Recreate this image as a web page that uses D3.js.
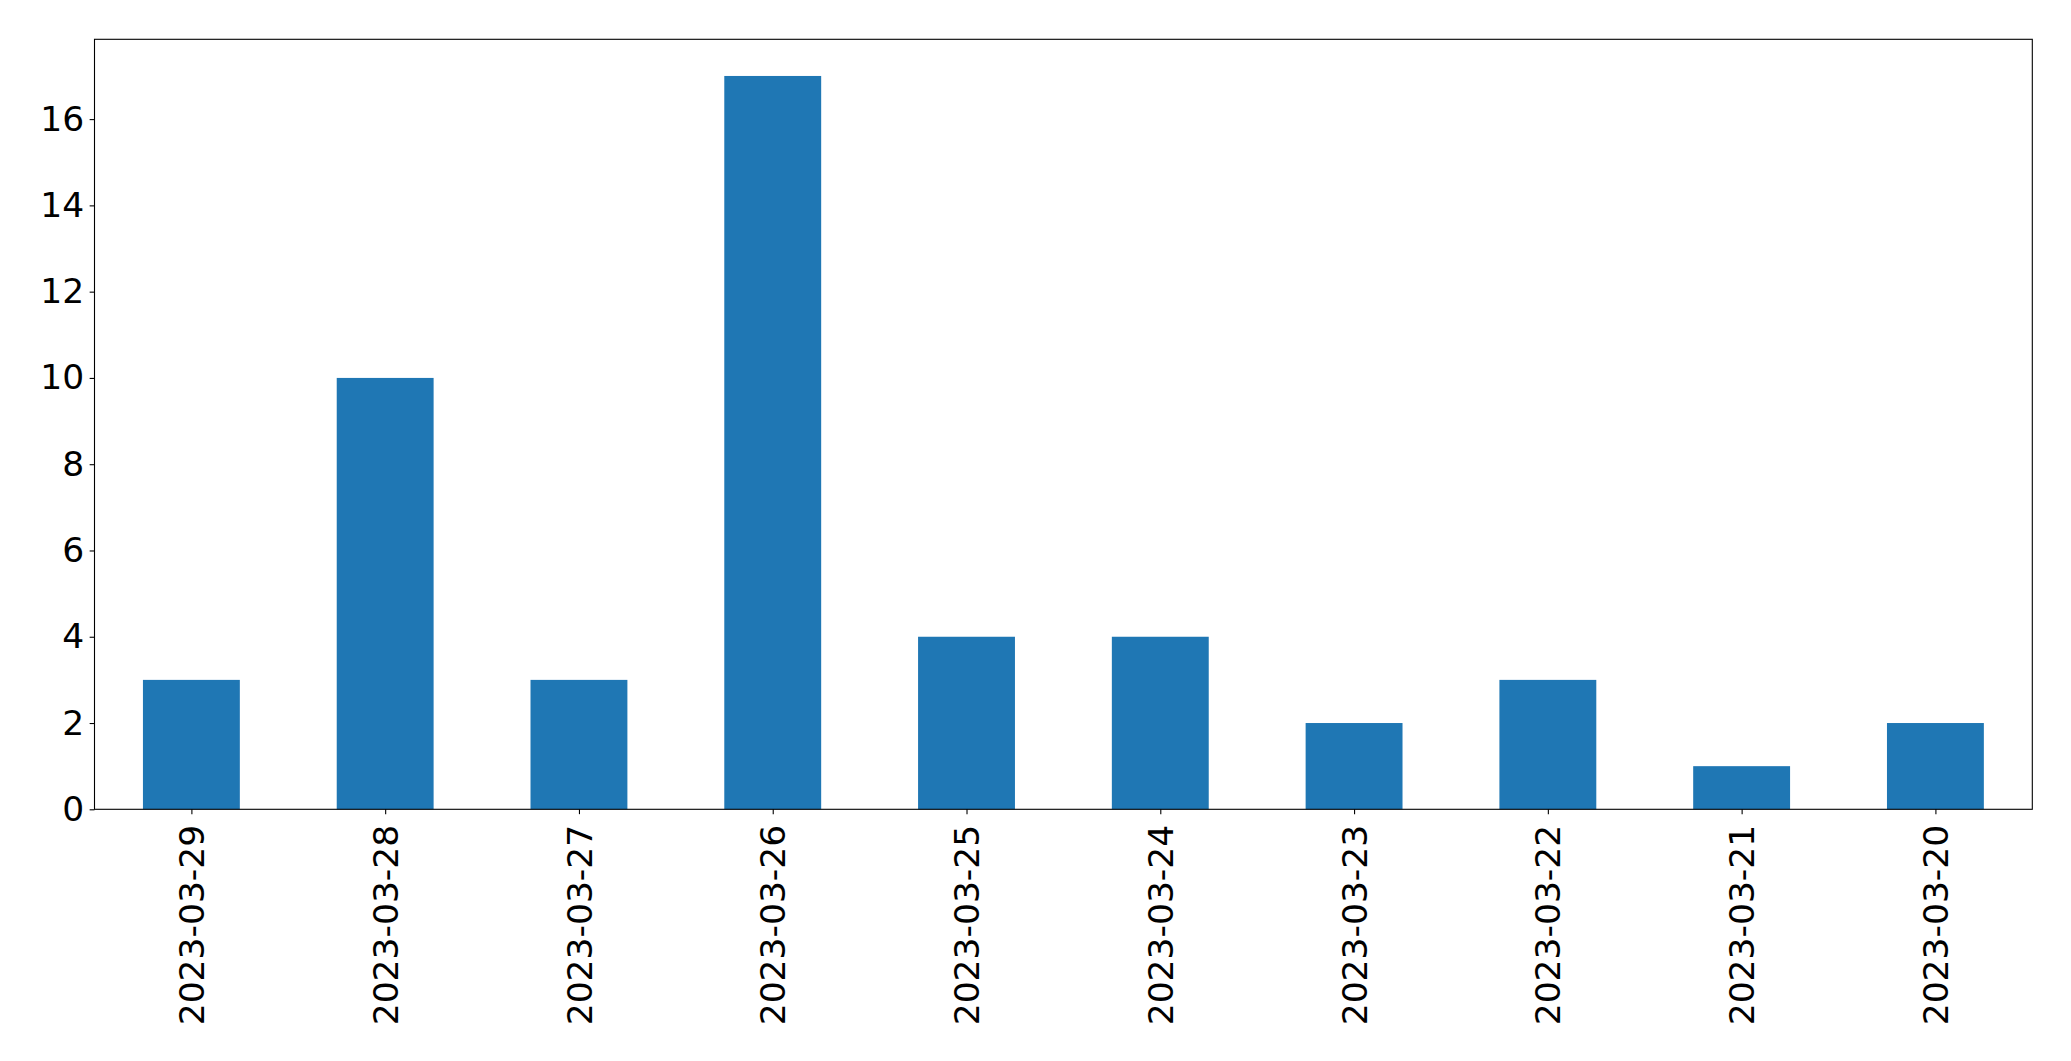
<!DOCTYPE html>
<html><head><meta charset="utf-8">
<script src="https://cdn.jsdelivr.net/npm/d3@7"></script>
<style>body{margin:0;background:#fff}svg{display:block}text{font-family:"DejaVu Sans",sans-serif}</style>
</head><body>
<script>
const categories = ["2023-03-29","2023-03-28","2023-03-27","2023-03-26","2023-03-25","2023-03-24","2023-03-23","2023-03-22","2023-03-21","2023-03-20"];
const values = [3,10,3,17,4,4,2,3,1,2];
const yTicks = [0,2,4,6,8,10,12,14,16];

const W = 2071, H = 1061;
const m = {left:94.5, right:2032.3, top:39.3, bottom:809.3};
const svg = d3.select("body").append("svg").attr("width",W).attr("height",H);

const x = d3.scaleLinear().domain([-0.5, categories.length-0.5]).range([m.left, m.right]);
const y = d3.scaleLinear().domain([0, d3.max(values)*1.05]).range([m.bottom, m.top]);

svg.append("g").selectAll("rect").data(values).join("rect")
  .attr("x",(d,i)=>x(i-0.25)).attr("width",(d,i)=>x(i+0.25)-x(i-0.25))
  .attr("y",d=>y(d)).attr("height",d=>y(0)-y(d)).attr("fill","#1f77b4");

const fs = 34.5;
const yAxis = svg.append("g").attr("transform",`translate(${m.left},0)`)
  .call(d3.axisLeft(y).tickValues(yTicks).tickSize(4.86).tickPadding(5.5).tickFormat(d3.format("d")));
yAxis.select(".domain").remove();
yAxis.selectAll("text").attr("font-size",fs).attr("fill","#000");
yAxis.selectAll("line").attr("stroke","#000").attr("stroke-width",1.1);

const xAxis = svg.append("g").attr("transform",`translate(0,${m.bottom})`)
  .call(d3.axisBottom(x).tickValues(d3.range(categories.length)).tickSize(4.86).tickPadding(4.86).tickFormat(i=>categories[i]));
xAxis.select(".domain").remove();
xAxis.selectAll("line").attr("stroke","#000").attr("stroke-width",1.1);
xAxis.selectAll("text").attr("font-size",fs).attr("fill","#000")
  .attr("transform","rotate(-90)").attr("text-anchor","end")
  .attr("x",-15.5).attr("y",0).attr("dy","0.35em");

svg.append("rect").attr("x",m.left).attr("y",m.top).attr("width",m.right-m.left).attr("height",m.bottom-m.top)
  .attr("fill","none").attr("stroke","#000").attr("stroke-width",1.1);
</script>
</body></html>
